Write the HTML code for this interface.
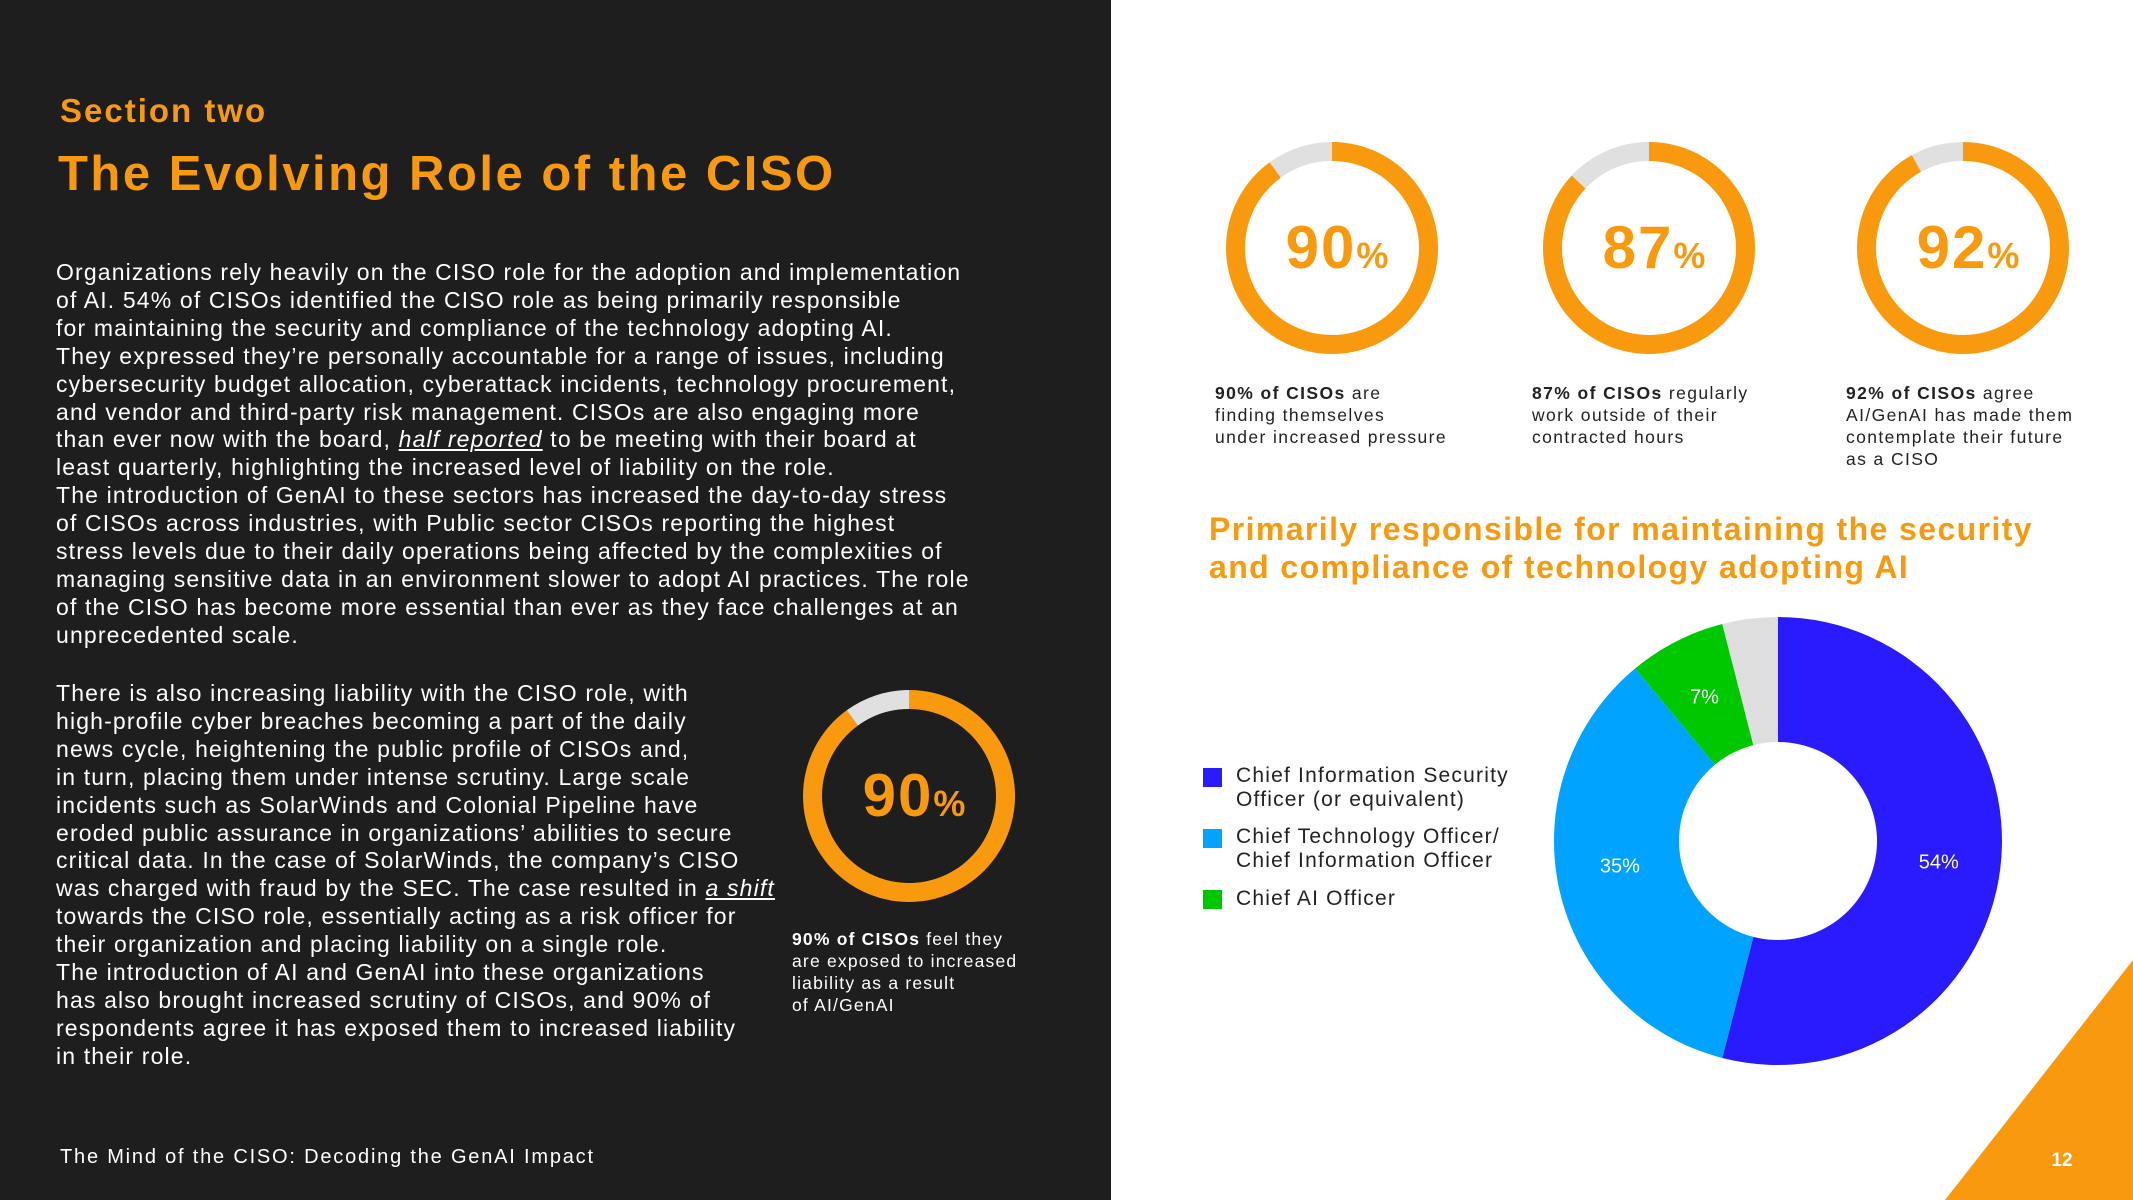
<!DOCTYPE html>
<html><head><meta charset="utf-8">
<style>
*{margin:0;padding:0;box-sizing:border-box}
body{width:2133px;height:1200px;position:relative;overflow:hidden;background:#fff;font-family:"Liberation Sans",sans-serif}
#left{position:absolute;left:0;top:0;width:1111px;height:1200px;background:#1e1e1e}
.abs{position:absolute;white-space:nowrap}
.body{left:56px;color:#fff;font-size:23px;line-height:27.9px;letter-spacing:1.15px}
.cap{font-size:17.5px;line-height:22px;letter-spacing:1.2px}
.orange{color:#f99a0e}
.leg{position:absolute;left:1203px;width:19px;height:19px}
.legt{position:absolute;left:1236px;font-size:21px;line-height:24px;color:#222;letter-spacing:1.2px;white-space:nowrap}
</style></head><body>
<div id="left"></div>
<div class="abs orange" style="left:60px;top:92px;font-size:33px;font-weight:bold;letter-spacing:2px">Section two</div>
<div class="abs orange" style="left:58px;top:146px;font-size:49px;font-weight:bold;letter-spacing:2.5px">The Evolving Role of the CISO</div>
<div class="abs body" style="top:259px">Organizations rely heavily on the CISO role for the adoption and implementation<br>of AI. 54% of CISOs identified the CISO role as being primarily responsible<br>for maintaining the security and compliance of the technology adopting AI.<br>They expressed they’re personally accountable for a range of issues, including<br>cybersecurity budget allocation, cyberattack incidents, technology procurement,<br>and vendor and third-party risk management. CISOs are also engaging more<br>than ever now with the board, <u><i>half reported</i></u> to be meeting with their board at<br>least quarterly, highlighting the increased level of liability on the role.<br>The introduction of GenAI to these sectors has increased the day-to-day stress<br>of CISOs across industries, with Public sector CISOs reporting the highest<br>stress levels due to their daily operations being affected by the complexities of<br>managing sensitive data in an environment slower to adopt AI practices. The role<br>of the CISO has become more essential than ever as they face challenges at an<br>unprecedented scale.</div>
<div class="abs body" style="top:680px">There is also increasing liability with the CISO role, with<br>high-profile cyber breaches becoming a part of the daily<br>news cycle, heightening the public profile of CISOs and,<br>in turn, placing them under intense scrutiny. Large scale<br>incidents such as SolarWinds and Colonial Pipeline have<br>eroded public assurance in organizations’ abilities to secure<br>critical data. In the case of SolarWinds, the company’s CISO<br>was charged with fraud by the SEC. The case resulted in <u><i>a shift</i></u><br>towards the CISO role, essentially acting as a risk officer for<br>their organization and placing liability on a single role.<br>The introduction of AI and GenAI into these organizations<br>has also brought increased scrutiny of CISOs, and 90% of<br>respondents agree it has exposed them to increased liability<br>in their role.</div>
<div class="abs cap" style="left:792px;top:928px;color:#fff"><b>90% of CISOs</b> feel they<br>are exposed to increased<br>liability as a result<br>of AI/GenAI</div>
<div class="abs" style="left:60px;top:1146px;color:#fff;font-size:20px;letter-spacing:1.8px">The Mind of the CISO: Decoding the GenAI Impact</div>

<div class="abs cap" style="left:1215px;top:382px;color:#222;letter-spacing:1.4px"><b>90% of CISOs</b> are<br>finding themselves<br>under increased pressure</div>
<div class="abs cap" style="left:1532px;top:382px;color:#222;letter-spacing:1.4px"><b>87% of CISOs</b> regularly<br>work outside of their<br>contracted hours</div>
<div class="abs cap" style="left:1846px;top:382px;color:#222;letter-spacing:1.4px"><b>92% of CISOs</b> agree<br>AI/GenAI has made them<br>contemplate their future<br>as a CISO</div>
<div class="abs orange" style="left:1209px;top:510px;font-size:32px;font-weight:bold;line-height:38px;letter-spacing:1.4px">Primarily responsible for maintaining the security<br>and compliance of technology adopting AI</div>

<div class="leg" style="top:768px;background:#2a1bff"></div>
<div class="legt" style="top:764px">Chief Information Security<br>Officer (or equivalent)</div>
<div class="leg" style="top:829px;background:#00a3ff"></div>
<div class="legt" style="top:825px">Chief Technology Officer/<br>Chief Information Officer</div>
<div class="leg" style="top:890px;background:#00c800"></div>
<div class="legt" style="top:887px">Chief AI Officer</div>

<svg id="svg" width="2133" height="1200" style="position:absolute;left:0;top:0">
<polygon points="2133,960 2133,1200 1945,1200" fill="#f99a0e"/>
<text x="2062" y="1166" fill="#fff" font-size="19" font-weight="bold" text-anchor="middle" font-family="Liberation Sans">12</text>
</svg>
<script>
const statValues=[90,90,87,92];
const statNames=['liability','pressure','hours','future'];
const statCenters=[[909,796],[1332,248],[1649,248],[1963,248]];
const pieCategories=['CISO','CTO/CIO','Chief AI Officer','Other'];
const pieValues=[54,35,7,4];
const pieLabels=['54%','35%','7%',''];
const pieColors=['#2a1bff','#00a3ff','#00c800','#dedede'];
const NS='http://www.w3.org/2000/svg';
const svg=document.getElementById('svg');
function pt(cx,cy,r,f){const a=f*2*Math.PI;return [cx+r*Math.sin(a),cy-r*Math.cos(a)];}
function arc(cx,cy,ro,ri,f0,f1){
  const lg=(f1-f0)>0.5?1:0;
  const a=pt(cx,cy,ro,f0),b=pt(cx,cy,ro,f1),c=pt(cx,cy,ri,f1),d=pt(cx,cy,ri,f0);
  return `M${a}A${ro},${ro} 0 ${lg} 1 ${b}L${c}A${ri},${ri} 0 ${lg} 0 ${d}Z`;
}
statValues.forEach((v,i)=>{
  const [cx,cy]=statCenters[i];
  const segs=[[0,v/100,'#f99a0e'],[v/100,1,'#e0e0e0']];
  segs.forEach((s,j)=>{
    const p=document.createElementNS(NS,'path');
    p.setAttribute('d',arc(cx,cy,106,87,s[0],s[1]));
    p.setAttribute('fill',s[2]);
    
    
    svg.appendChild(p);
  });
  const t=document.createElementNS(NS,'text');
  t.setAttribute('x',cx+6);t.setAttribute('y',cy+20);
  t.setAttribute('text-anchor','middle');t.setAttribute('fill','#f99a0e');
  t.setAttribute('font-family','Liberation Sans');t.setAttribute('font-weight','bold');
  t.setAttribute('letter-spacing','2');
  
  
  t.innerHTML=`<tspan font-size="60">${v}</tspan><tspan font-size="36">%</tspan>`;
  svg.appendChild(t);
});
const total=pieValues.reduce((a,b)=>a+b,0);
let acc=0;
pieValues.forEach((v,i)=>{
  const f0=acc/total,f1=(acc+v)/total;acc+=v;
  const p=document.createElementNS(NS,'path');
  p.setAttribute('d',arc(1778,841,224,99,f0,f1));
  p.setAttribute('fill',pieColors[i]);
  
  
  svg.appendChild(p);
  if(pieLabels[i]){
    const m=pt(1778,841,162,(f0+f1)/2);
    const t=document.createElementNS(NS,'text');
    t.setAttribute('x',m[0]);t.setAttribute('y',m[1]+(i==1?-4:7));
    t.setAttribute('text-anchor','middle');t.setAttribute('fill','#fff');
    t.setAttribute('font-size','20');t.setAttribute('font-family','Liberation Sans');
    
    
    t.textContent=pieLabels[i];
    svg.appendChild(t);
  }
});
</script>
</body></html>
